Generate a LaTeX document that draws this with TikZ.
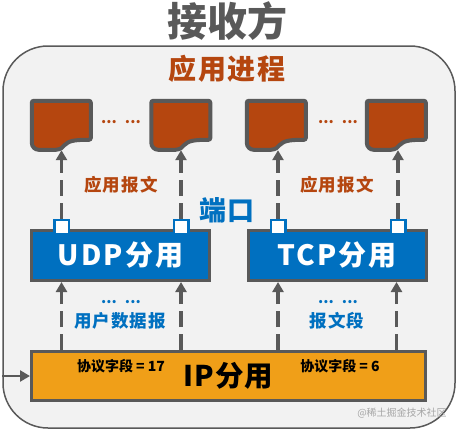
\documentclass[tikz,border=0pt]{standalone}
\usepackage{fontspec}
\setmainfont{Noto Sans CJK SC}
\usetikzlibrary{arrows.meta}

\definecolor{linegray}{HTML}{595959}
\definecolor{panelgray}{HTML}{F2F2F2}
\definecolor{procbrown}{HTML}{B5460F}
\definecolor{udpblue}{HTML}{0070C0}
\definecolor{iporange}{HTML}{F09F18}

\tikzset{
    panelbox/.style={draw=linegray, fill=panelgray, line width=1.5pt, rounded corners=45pt},
    docbox/.style={minimum width=59pt, minimum height=49pt, inner sep=0pt},
    docline/.style={draw=linegray, fill=procbrown, line width=4pt, rounded corners=2pt},
    demuxbox/.style={draw=linegray, fill=udpblue, line width=3pt, minimum width=178pt, minimum height=50pt, text=white, font=\bfseries\fontsize{28}{28}\selectfont\addfontfeature{LetterSpace=8}},
    portbox/.style={draw=udpblue, fill=white, line width=2.5pt, minimum size=14.5pt, inner sep=0pt},
    dataflow/.style={draw=linegray, line width=3.5pt, dash pattern=on 16pt off 7pt, -{Triangle[length=10pt,width=11pt]}},
    browntext/.style={text=procbrown, font=\bfseries\fontsize{17.5}{17.5}\selectfont\addfontfeature{LetterSpace=6}},
    bluetext/.style={text=udpblue, font=\bfseries\fontsize{17.5}{17.5}\selectfont\addfontfeature{LetterSpace=6}},
    browndots/.style={text=procbrown, font=\bfseries\fontsize{15}{15}\selectfont},
    bluedots/.style={text=udpblue, font=\bfseries\fontsize{15}{15}\selectfont},
    fieldtext/.style={font=\bfseries\fontsize{14}{14}\selectfont},
}

% 带波浪底边的进程
\newcommand{\procdoc}[2]{
    \node[docbox] (#1) at (#2,125.5) {};
    \draw[docline, shift={(#1.north west)}] (0,0) -- (59,0) -- (59,39)
        .. controls (42,39) and (37,40) .. (31,46) .. controls (29,48) and (26,49) .. (22,49)
        [rounded corners=7pt] -- (0,49) [rounded corners=2pt] -- cycle;
}

\begin{document}
\begin{tikzpicture}[x=1pt, y=-1pt]
    \useasboundingbox (0,0) rectangle (458,431);

    % 外框和标题
    \node[text=linegray, font=\bfseries\fontsize{40}{40}\selectfont] (title) at (227,21) {接收方};
    \node[panelbox, minimum width=452pt, minimum height=382pt] (panel) at (229,237) {};
    \node[text=procbrown, font=\bfseries\fontsize{28}{28}\selectfont\addfontfeature{LetterSpace=6}] (apptitle) at (227,69) {应用进程};

    % 四个进程
    \procdoc{doca}{61.5}
    \procdoc{docb}{181}
    \procdoc{docc}{276.5}
    \procdoc{docd}{396.5}
    \node[browndots] (dotsa) at (121,122) {...\hspace{8pt}...};
    \node[browndots] (dotsb) at (338,122) {...\hspace{8pt}...};

    % 分用框
    \node[demuxbox] (udp) at (120.5,255.5) {UDP分用};
    \node[demuxbox] (tcp) at (337,255.5) {TCP分用};
    \node[draw=linegray, fill=iporange, line width=3pt, minimum width=394pt, minimum height=49pt, font=\bfseries\fontsize{28.5}{28.5}\selectfont\addfontfeature{LetterSpace=4}] (ip) at (228.5,376) {IP分用};
    \node[fieldtext] (fielda) at (121,366) {协议字段 = 17};
    \node[fieldtext] (fieldb) at (340,366) {协议字段 = 6};

    % 端口
    \node[portbox] (porta) at (61.5,227) {};
    \node[portbox] (portb) at (181,227) {};
    \node[portbox] (portc) at (278,227) {};
    \node[portbox] (portd) at (398,227) {};
    \node[text=udpblue, font=\bfseries\fontsize{27}{27}\selectfont\addfontfeature{LetterSpace=4}] (portlabel) at (227,210) {端口};

    % 上面的箭头
    \draw[dataflow] (porta.north) -- (porta.north |- doca.south);
    \draw[dataflow] (portb.north) -- (portb.north |- docb.south);
    \draw[dataflow] (portc.north) -- (portc.north |- docc.south);
    \draw[dataflow] (portd.north) -- (portd.north |- docd.south);

    % 下面的箭头
    \draw[dataflow] (porta |- ip.north) -- (porta |- udp.south);
    \draw[dataflow] (portb |- ip.north) -- (portb |- udp.south);
    \draw[dataflow] (portc |- ip.north) -- (portc |- tcp.south);
    \draw[dataflow] ([xshift=-1.5pt]portd |- ip.north) -- ([xshift=-1.5pt]portd |- tcp.south);

    % 进入 IP 的箭头
    \draw[draw=linegray, line width=2.5pt, -{Triangle[length=10pt,width=11pt]}] (panel.west |- ip) -- (ip.west);

    \node[browntext] (msga) at (121,185) {应用报文};
    \node[browntext] (msgb) at (337,185) {应用报文};
    \node[bluedots] (dotsc) at (121,302) {...\hspace{8pt}...};
    \node[bluedots] (dotsd) at (338,302) {...\hspace{8pt}...};
    \node[bluetext] (dgram) at (120,321) {用户数据报};
    \node[bluetext] (segment) at (337,321) {报文段};

    \node[text=black!35, font=\fontsize{10}{10}\selectfont] (mark) at (402,413) {@稀土掘金技术社区};
\end{tikzpicture}
\end{document}
